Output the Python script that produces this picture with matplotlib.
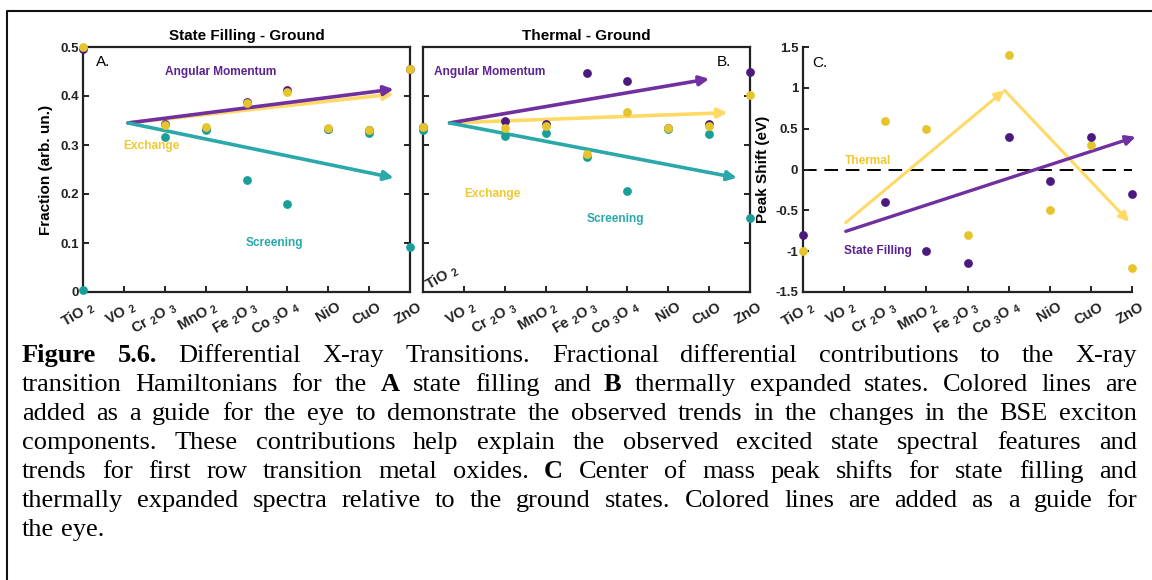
import numpy as np
import matplotlib
matplotlib.use('Agg')
import matplotlib.pyplot as plt
from matplotlib.lines import Line2D
from matplotlib.transforms import ScaledTranslation

plt.rcParams['font.family'] = 'Liberation Sans'
plt.rcParams['mathtext.fontset'] = 'custom'
plt.rcParams['mathtext.rm'] = 'Liberation Sans:bold'
plt.rcParams['mathtext.bf'] = 'Liberation Sans:bold'
plt.rcParams['mathtext.default'] = 'bf'

# categories (1..9 on the x axis)
oxides = ['TiO $_2$', 'VO $_2$', 'Cr $_2$O $_3$', 'MnO $_2$', 'Fe $_2$O $_3$',
          'Co $_3$O $_4$', 'NiO', 'CuO', 'ZnO']
nan = np.nan

# A. state filling - ground (fractions)
sf_ang = [0.495, nan, 0.342, 0.333, 0.387, 0.413, 0.333, 0.330, 0.455]
sf_exc = [0.500, nan, 0.341, 0.336, 0.386, 0.409, 0.334, 0.330, 0.455]
sf_scr = [0.005, nan, 0.317, 0.331, 0.228, 0.179, 0.332, 0.324, 0.091]

# B. thermal - ground (fractions)
th_ang = [0.336, nan, 0.350, 0.343, 0.446, 0.431, 0.335, 0.342, 0.449]
th_exc = [0.337, nan, 0.335, 0.338, 0.282, 0.367, 0.334, 0.338, 0.403]
th_scr = [0.330, nan, 0.319, 0.324, 0.275, 0.207, 0.333, 0.323, 0.151]

# C. peak shifts (eV)
ps_thermal = [-1.0, nan, 0.6, 0.5, -0.8, 1.4, -0.5, 0.3, -1.2]
ps_sf = [-0.8, nan, -0.4, -1.0, -1.15, 0.4, -0.14, 0.4, -0.3]

# guide arrows (start, end), in data units
guide_a = {'ang': ((2.1, 0.345), (8.6, 0.414)),
           'exc': ((2.1, 0.345), (8.6, 0.404)),
           'scr': ((2.1, 0.345), (8.6, 0.233))}
guide_b = {'ang': ((1.65, 0.345), (8.0, 0.435)),
           'exc': ((1.65, 0.345), (8.45, 0.366)),
           'scr': ((1.65, 0.345), (8.68, 0.233))}
guide_c_th = [((2.04, -0.65), (5.9, 0.97)), ((5.9, 0.97), (8.93, -0.64))]
guide_c_sf = ((2.04, -0.757), (9.09, 0.40))

caption = [
    [('Figure', 1), ('5.6.', 1), 'Differential', 'X-ray', 'Transitions.', 'Fractional', 'differential',
     'contributions', 'to', 'the', 'X-ray'],
    ['transition', 'Hamiltonians', 'for', 'the', ('A', 1), 'state', 'filling', 'and', ('B', 1), 'thermally',
     'expanded', 'states.', 'Colored', 'lines', 'are'],
    'added as a guide for the eye to demonstrate the observed trends in the changes in the BSE exciton'.split(),
    'components. These contributions help explain the observed excited state spectral features and'.split(),
    ['trends', 'for', 'first', 'row', 'transition', 'metal', 'oxides.', ('C', 1), 'Center', 'of', 'mass',
     'peak', 'shifts', 'for', 'state', 'filling', 'and'],
    'thermally expanded spectra relative to the ground states. Colored lines are added as a guide for'.split(),
    'the eye.'.split(),
]

PUR_DOT = '#4b1a7e'
YEL_DOT = '#e6c42c'
TEA_DOT = '#1a9e9a'
PUR_LN = '#7030a0'
YEL_LN = '#ffd966'
TEA_LN = '#2aa8aa'

W, H = 1152, 580
fig = plt.figure(figsize=(W / 100, H / 100), dpi=100)
x = np.arange(1, 10)


def px_axes(l, r, t, b):
    return fig.add_axes([l / W, 1 - b / H, (r - l) / W, (b - t) / H])


def style(ax, box=True):
    for s in ['top', 'right']:
        ax.spines[s].set_visible(box)
    for s in ax.spines.values():
        s.set_linewidth(1.6)
        s.set_color('#222222')
    ax.tick_params(direction='in', length=4, width=1.4, labelsize=9.5,
                   top=False, right=box, colors='#222222')
    ax.set_xlim(1, 9)
    ax.set_xticks(x)
    ax.set_xticklabels(oxides, rotation=30, ha='right', va='center', fontsize=10.5,
                       rotation_mode='anchor', fontweight='bold')
    off = ScaledTranslation(11 / 100, -9 / 100, fig.dpi_scale_trans)
    for lab in ax.get_xticklabels():
        lab.set_transform(lab.get_transform() + off)
    for lab in ax.get_yticklabels():
        lab.set_fontweight('bold')


def arrow(ax, p0, p1, color, lw=2.6):
    ax.annotate('', xy=p1, xytext=p0, annotation_clip=False,
                arrowprops=dict(arrowstyle='-|>', color=color, lw=lw,
                                mutation_scale=14, shrinkA=0, shrinkB=0))


def dots(ax, y, color):
    ax.scatter(x, y, s=40, color=color, zorder=4, clip_on=False, linewidths=0)


# ---- panel A
axA = px_axes(83, 410, 47, 292)
style(axA)
axA.set_ylim(0, 0.5)
axA.set_yticks([0, 0.1, 0.2, 0.3, 0.4, 0.5])
axA.set_yticklabels(['0', '0.1', '0.2', '0.3', '0.4', '0.5'], fontweight='bold')
axA.tick_params(axis='y', pad=3)
arrow(axA, *guide_a['exc'], YEL_LN)
arrow(axA, *guide_a['ang'], PUR_LN)
arrow(axA, *guide_a['scr'], TEA_LN)
dots(axA, sf_ang, PUR_DOT)
dots(axA, sf_scr, TEA_DOT)
dots(axA, sf_exc, YEL_DOT)
axA.set_title('State Filling - Ground', fontsize=11, fontweight='bold', pad=5)
axA.set_ylabel('Fraction (arb. un.)', fontsize=11, fontweight='bold')
axA.yaxis.set_label_coords(-0.092, 0.5)
axA.text(1.5, 0.469, 'A.', fontsize=11, va='center', ha='center')
axA.text(4.37, 0.449, 'Angular Momentum', color='#5b2391', fontsize=8.6, fontweight='bold', ha='center', va='center')
axA.text(2.68, 0.298, 'Exchange', color='#f0c832', fontsize=8.6, fontweight='bold', ha='center', va='center')
axA.text(5.68, 0.100, 'Screening', color=TEA_LN, fontsize=8.6, fontweight='bold', ha='center', va='center')

# ---- panel B
axB = px_axes(423, 750, 47, 292)
style(axB)
axB.set_ylim(0, 0.5)
axB.set_yticks([0, 0.1, 0.2, 0.3, 0.4, 0.5])
axB.set_yticklabels([])
axB.get_xticklabels()[0].set_visible(False)
arrow(axB, *guide_b['exc'], YEL_LN)
arrow(axB, *guide_b['ang'], PUR_LN)
arrow(axB, *guide_b['scr'], TEA_LN)
dots(axB, th_ang, PUR_DOT)
dots(axB, th_scr, TEA_DOT)
dots(axB, th_exc, YEL_DOT)
axB.set_title('Thermal - Ground', fontsize=11, fontweight='bold', pad=5)
axB.text(8.37, 0.469, 'B.', fontsize=11, va='center', ha='center')
axB.text(2.63, 0.449, 'Angular Momentum', color='#5b2391', fontsize=8.6, fontweight='bold', ha='center', va='center')
axB.text(2.7, 0.199, 'Exchange', color='#f0c832', fontsize=8.6, fontweight='bold', ha='center', va='center')
axB.text(5.7, 0.148, 'Screening', color=TEA_LN, fontsize=8.6, fontweight='bold', ha='center', va='center')
axB.text(1.47, 0.03, oxides[0], rotation=30, fontsize=10.5, fontweight='bold', ha='center', va='center',
         color='#222222')

# ---- panel C
axC = px_axes(803, 1132, 47, 292)
style(axC, box=False)
axC.set_ylim(-1.5, 1.5)
axC.set_yticks([-1.5, -1, -0.5, 0, 0.5, 1, 1.5])
axC.set_yticklabels(['-1.5', '-1', '-0.5', '0', '0.5', '1', '1.5'], fontweight='bold')
axC.axhline(0, color='black', lw=1.4, ls=(0, (7, 4)), zorder=1)
for p0, p1 in guide_c_th:
    arrow(axC, p0, p1, YEL_LN, lw=2.2)
arrow(axC, *guide_c_sf, PUR_LN, lw=2.4)
dots(axC, ps_thermal, YEL_DOT)
dots(axC, ps_sf, PUR_DOT)
axC.set_ylabel('Peak Shift (eV)', fontsize=11, fontweight='bold')
axC.yaxis.set_label_coords(-0.10, 0.5)
axC.text(1.4, 1.31, 'C.', fontsize=11, va='center', ha='center')
axC.text(2.59, 0.1, 'Thermal', color='#f0c832', fontsize=8.6, fontweight='bold', ha='center', va='center')
axC.text(2.83, -1.0, 'State Filling', color='#5b2391', fontsize=8.6, fontweight='bold', ha='center', va='center')

# ---- frame
fig.add_artist(Line2D([7 / W, 7 / W, 1], [0, 1 - 11 / H, 1 - 11 / H], transform=fig.transFigure,
                      color='#111111', lw=1.5))

# ---- caption (justified)
renderer = fig.canvas.get_renderer()
left, right = 22, 1137
cap_size = 19
for i, line in enumerate(caption):
    yb = 1 - (362 + 29 * i) / H
    items = []
    for w in line:
        txt, bold = (w if isinstance(w, tuple) else (w, 0))
        t = fig.text(0, yb, txt, fontsize=cap_size, family='Liberation Serif',
                     fontweight='bold' if bold else 'normal', va='baseline', ha='left')
        items.append(t)
    widths = [t.get_window_extent(renderer).width for t in items]
    if i < len(caption) - 1:
        gap = max((right - left - sum(widths)) / (len(items) - 1), 2)
    else:
        gap = cap_size * 0.25 * 100 / 72
    xp = left
    for t, w in zip(items, widths):
        t.set_x(xp / W)
        xp += w + gap

fig.savefig('out.png', dpi=100)
